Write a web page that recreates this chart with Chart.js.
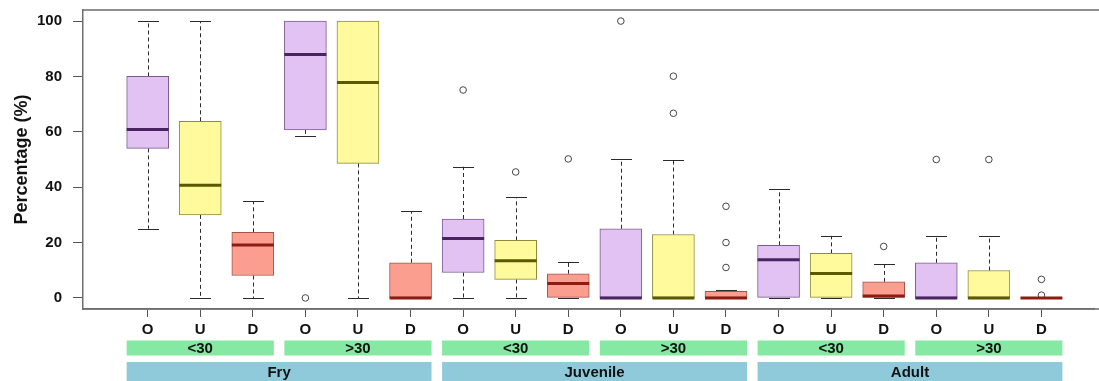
<!DOCTYPE html>
<html>
<head>
<meta charset="utf-8">
<script src="https://cdn.jsdelivr.net/npm/chart.js@4/dist/chart.umd.min.js"></script>
<style>
  html, body { margin: 0; padding: 0; background: #ffffff; }
  #wrap { width: 1099px; height: 381px; }
</style>
</head>
<body>
<div id="wrap"><canvas id="c" width="1099" height="381"></canvas></div>
<script>
// Box labels along the x axis (O / U / D for every sub-group)
const tickLabels = ['O','U','D','O','U','D','O','U','D','O','U','D','O','U','D','O','U','D'];
// Length class of each triplet, and life stage of each pair of triplets
const sizeGroups = ['<30', '>30', '<30', '>30', '<30', '>30'];
const stages = ['Fry', 'Juvenile', 'Adult'];
const yTicks = [0, 20, 40, 60, 80, 100];

// Five-number summaries per box (percent)
const lowerWhisker = [25, 0, 0, 58.4, 0, 0, 0, 0, 0, 0, 0, 0, 0, 0, 0, 0, 0, 0];
const q1           = [54.0, 30.0, 8.1, 60.7, 48.6, 0, 9.2, 6.7, 0, 0, 0, 0, 0, 0, 0, 0, 0, 0];
const median       = [60.8, 40.7, 19.1, 87.9, 77.8, 0, 21.5, 13.4, 5.2, 0, 0, 0, 13.8, 8.8, 0.7, 0, 0, 0];
const q3           = [80.0, 63.8, 23.7, 100, 100, 12.7, 28.5, 20.8, 8.7, 25.0, 22.9, 2.4, 19.0, 16.1, 5.8, 12.7, 9.9, 0];
const upperWhisker = [100, 100, 34.9, 100, 100, 31.4, 47.4, 36.3, 13.0, 50.1, 50.0, 2.8, 39.2, 22.4, 12.2, 22.2, 22.2, 0];
const outliers = [[], [], [], [0], [], [], [75.1], [45.5], [50.2], [100], [80.1, 66.7], [33.1, 20.0, 11.0], [], [], [18.6], [50], [50], [6.7, 1.0]];

// Colours per box kind (O, U, D)
const fills   = { O: '#e2c2f3', U: '#fffb9c', D: '#fb9e90' };
const borders = { O: '#7b5c8c', U: '#8e8b3c', D: '#a4544c' };
const medians = { O: '#4a2362', U: '#5a5800', D: '#8c1c12' };

const positions = tickLabels.map((_, i) => i + 1);
const BOX_W = 42;
const FONT = "'Liberation Sans', Arial, Helvetica, sans-serif";

const boxData = positions.map((p, i) => ({ x: p, y: [q1[i], q3[i]] }));
const outlierData = [];
outliers.forEach((arr, i) => arr.forEach(v => outlierData.push({ x: i + 1, y: v })));

const boxExtras = {
  id: 'boxExtras',
  beforeDatasetsDraw(chart) {
    const ctx = chart.ctx, xs = chart.scales.x, ys = chart.scales.y;
    ctx.save();
    ctx.strokeStyle = '#2a2a2a';
    ctx.lineWidth = 1;
    positions.forEach((p, i) => {
      const cx = Math.round(xs.getPixelForValue(p)) + 0.5;
      const segs = [[q3[i], upperWhisker[i]], [q1[i], lowerWhisker[i]]];
      segs.forEach(([from, to]) => {
        ctx.setLineDash([4, 3]);
        ctx.beginPath();
        ctx.moveTo(cx, ys.getPixelForValue(from));
        ctx.lineTo(cx, ys.getPixelForValue(to));
        ctx.stroke();
        ctx.setLineDash([]);
        const yy = Math.round(ys.getPixelForValue(to)) + 0.5;
        ctx.beginPath();
        ctx.moveTo(cx - BOX_W / 4, yy);
        ctx.lineTo(cx + BOX_W / 4, yy);
        ctx.stroke();
      });
    });
    ctx.restore();
  },
  afterDatasetsDraw(chart) {
    const ctx = chart.ctx, xs = chart.scales.x, ys = chart.scales.y;
    ctx.save();
    ctx.lineWidth = 3;
    positions.forEach((p, i) => {
      const cx = xs.getPixelForValue(p);
      const y = ys.getPixelForValue(median[i]);
      ctx.strokeStyle = medians[tickLabels[i]];
      ctx.beginPath();
      ctx.moveTo(cx - BOX_W / 2, y);
      ctx.lineTo(cx + BOX_W / 2, y);
      ctx.stroke();
    });
    ctx.restore();
  },
  afterDraw(chart) {
    const ctx = chart.ctx, xs = chart.scales.x, area = chart.chartArea;
    ctx.save();
    // top and bottom of the frame, running out to the canvas edge
    ctx.strokeStyle = '#6e6e6e';
    ctx.lineWidth = 1.5;
    ctx.beginPath();
    ctx.moveTo(area.left, area.top);
    ctx.lineTo(chart.width, area.top);
    ctx.moveTo(area.left, area.bottom);
    ctx.lineTo(chart.width, area.bottom);
    ctx.stroke();

    ctx.font = 'bold 15px ' + FONT;
    ctx.textAlign = 'center';
    ctx.textBaseline = 'middle';
    const band = (first, last, y0, y1, color, text) => {
      const l = xs.getPixelForValue(first) - BOX_W / 2;
      const r = xs.getPixelForValue(last) + BOX_W / 2;
      ctx.fillStyle = color;
      ctx.fillRect(l, y0, r - l, y1 - y0);
      ctx.fillStyle = '#111111';
      ctx.fillText(text, (l + r) / 2, (y0 + y1) / 2 + 1);
    };
    sizeGroups.forEach((g, k) => band(k * 3 + 1, k * 3 + 3, 340.5, 355.5, '#85e8a3', g));
    stages.forEach((s, k) => band(k * 6 + 1, k * 6 + 6, 362, 381, '#8fcadb', s));
    ctx.restore();
  }
};

Chart.defaults.font.family = FONT;
Chart.defaults.color = '#111111';

new Chart(document.getElementById('c'), {
  type: 'bar',
  data: {
    datasets: [
      {
        type: 'bar',
        data: boxData,
        backgroundColor: tickLabels.map(k => fills[k]),
        borderColor: tickLabels.map(k => borders[k]),
        borderWidth: 1,
        borderSkipped: false,
        barThickness: BOX_W,
        grouped: false
      },
      {
        type: 'scatter',
        data: outlierData,
        pointStyle: 'circle',
        pointRadius: 3.3,
        backgroundColor: '#ffffff',
        borderColor: '#444444',
        borderWidth: 1
      }
    ]
  },
  options: {
    responsive: false,
    animation: false,
    devicePixelRatio: 1,
    layout: { padding: { top: 10, right: 0, left: 0, bottom: 0 } },
    plugins: { legend: { display: false }, tooltip: { enabled: false } },
    scales: {
      x: {
        type: 'linear',
        offset: false,
        min: -0.23,
        max: 19.0,
        afterBuildTicks(scale) { scale.ticks = positions.map(v => ({ value: v })); },
        afterFit(scale) {
          scale.height = 72;
          scale.paddingLeft = 0; scale.paddingRight = 0;
          scale.paddingTop = 0; scale.paddingBottom = 0;
        },
        grid: { display: true, offset: false, drawOnChartArea: false, drawTicks: true, tickLength: 8, color: '#555555' },
        border: { display: true, color: '#6e6e6e', width: 1.5 },
        ticks: {
          autoSkip: false,
          maxRotation: 0,
          padding: 4,
          font: { size: 15, weight: 'bold' },
          color: '#111111',
          callback: (v) => tickLabels[v - 1]
        }
      },
      y: {
        min: -4,
        max: 104,
        afterBuildTicks(scale) { scale.ticks = yTicks.map(v => ({ value: v })); },
        afterFit(scale) {
          scale.width = 83;
          scale.paddingLeft = 0; scale.paddingRight = 0;
          scale.paddingTop = 0; scale.paddingBottom = 0;
        },
        grid: { display: true, drawOnChartArea: false, drawTicks: true, tickLength: 10, color: '#555555' },
        border: { display: true, color: '#6e6e6e', width: 1.5 },
        ticks: { padding: 11, font: { size: 15, weight: 'bold' }, color: '#111111' },
        title: {
          display: true,
          text: 'Percentage (%)',
          font: { size: 18, weight: 'bold' },
          color: '#111111',
          padding: { top: 11, bottom: 0 }
        }
      }
    }
  },
  plugins: [boxExtras]
});
</script>
</body>
</html>
